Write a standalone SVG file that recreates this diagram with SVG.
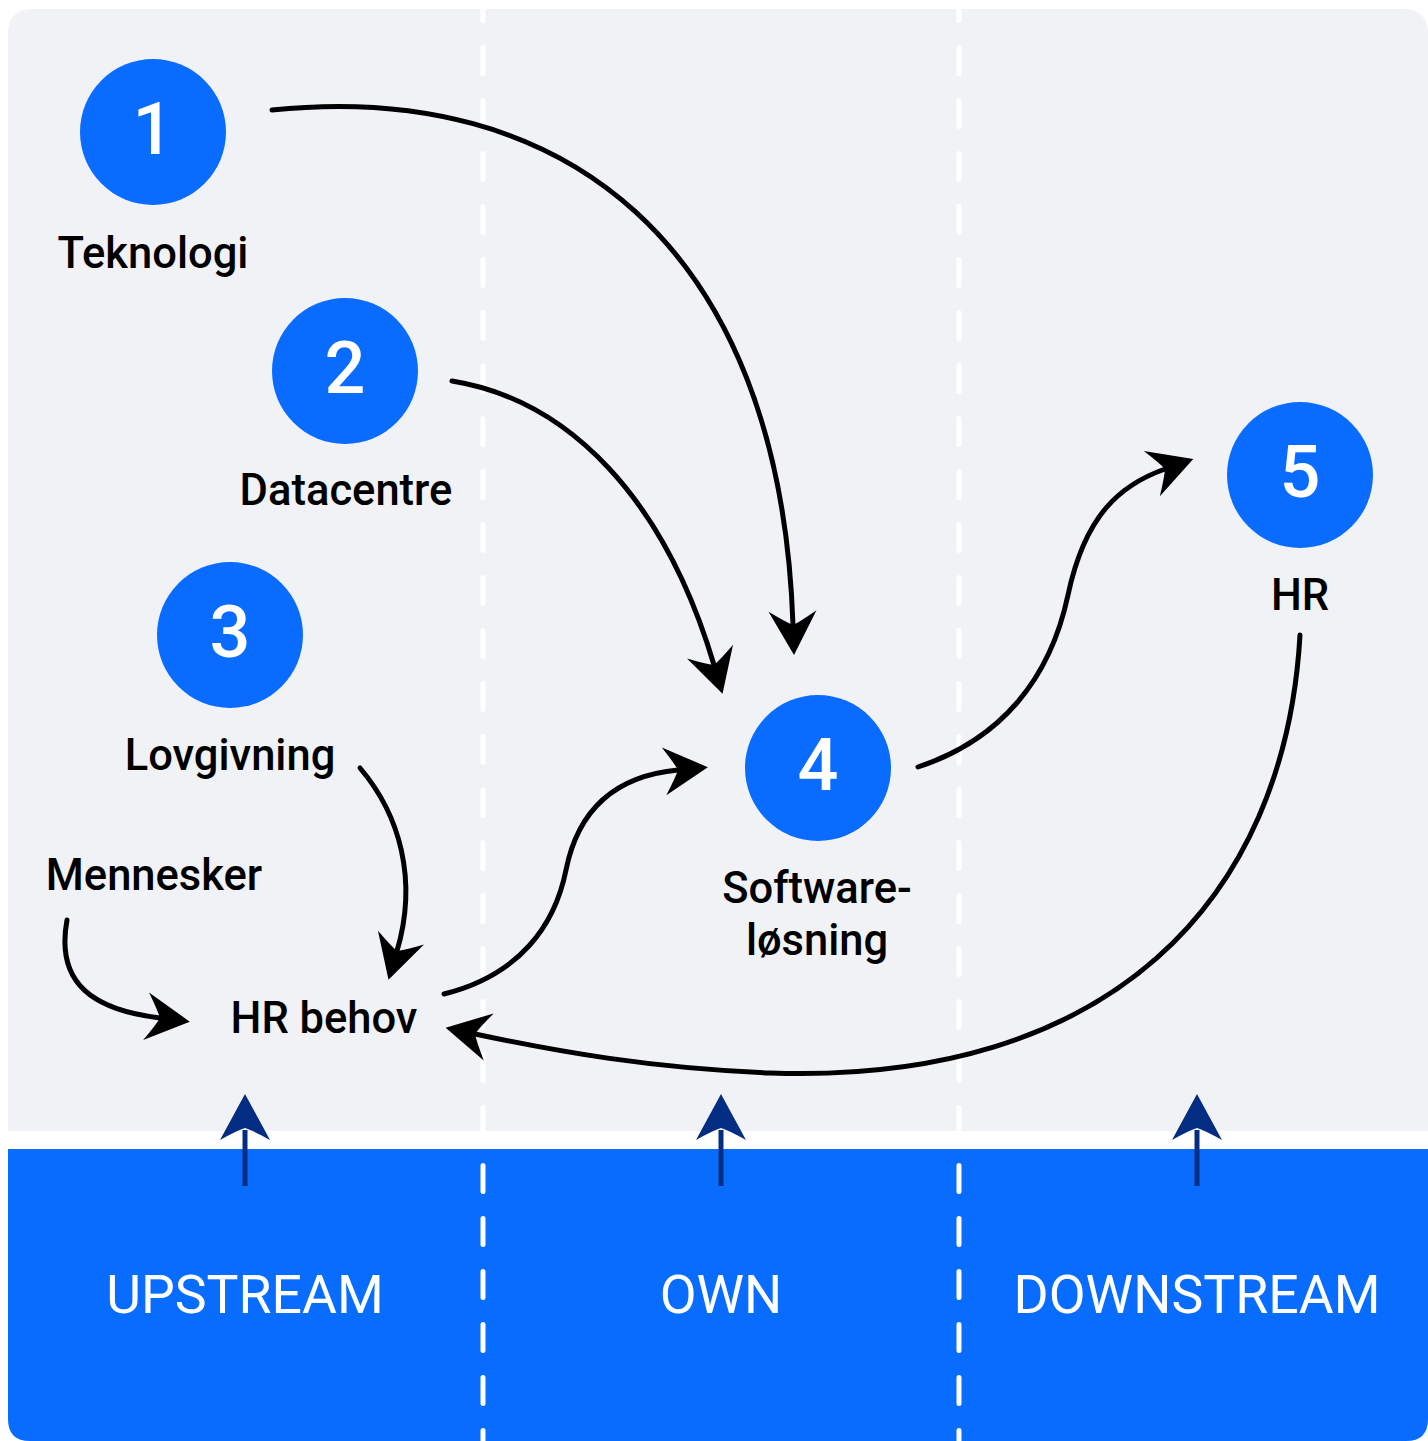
<svg xmlns="http://www.w3.org/2000/svg" width="1428" height="1441" viewBox="0 0 1428 1441">
<style>
.lbl{font-family:Roboto,'Liberation Sans',sans-serif;font-size:43.5px;font-weight:500;fill:#000;text-anchor:middle}
.num{font-family:Roboto,'Liberation Sans',sans-serif;font-size:72px;font-weight:500;fill:#fff;text-anchor:middle}
.band{font-family:Roboto,'Liberation Sans',sans-serif;font-size:53.6px;font-weight:400;fill:#fff;text-anchor:middle}
.node{fill:#0A6CFF}
.conn{fill:none;stroke:#000;stroke-width:5;stroke-linecap:round;marker-end:url(#ah)}
.dash{stroke:#fff;stroke-width:5;stroke-linecap:round;stroke-dasharray:26 27}
.up{stroke:#032D82;stroke-width:5}
.uphead{fill:#032D82}
</style>
<defs>
<marker id="ah" markerUnits="userSpaceOnUse" orient="auto" overflow="visible" markerWidth="1" markerHeight="1" refX="0" refY="0">
<path d="M30,0 L-14,-24 Q-3,-7 0,0 Q-3,7 -14,24 Z" fill="#000"/>
</marker>
</defs>
<rect width="1428" height="1441" fill="#fff"/>
<path d="M8,34 Q8,9 33,9 L1403,9 Q1428,9 1428,34 L1428,1131 L8,1131 Z" fill="#F0F2F6"/>
<path d="M8,1149 L1428,1149 L1428,1419 Q1428,1441 1406,1441 L30,1441 Q8,1441 8,1419 Z" fill="#086CFF"/>
<g id="dividers">
<line class="dash" x1="483" y1="-5.5" x2="483" y2="1131"/>
<line class="dash" x1="959" y1="-5.5" x2="959" y2="1131"/>
<line class="dash" x1="483" y1="1165.5" x2="483" y2="1441"/>
<line class="dash" x1="959" y1="1165.5" x2="959" y2="1441"/>
</g>
<g id="connectors">
<path class="conn" d="M272,110 C560,80 780,240 793,625"/>
<path class="conn" d="M452,381 C570,400 665,500 714,665"/>
<path class="conn" d="M918,767 C1000,740 1050,680 1068,595 C1085,515 1120,485 1165,469"/>
<path class="conn" d="M1300,635 C1285,900 1110,1085 770,1073 C650,1068 560,1052 475,1034"/>
<path class="conn" d="M360,768 C400,815 418,880 397,951"/>
<path class="conn" d="M67,920 C55,985 95,1010 160,1018"/>
<path class="conn" d="M444,994 C520,975 555,925 566,870 C580,800 625,775 678,770"/>
</g>
<g id="node1"><circle class="node" cx="153" cy="132" r="73"/><text class="num" x="153" y="154">1</text><text class="lbl" x="153" y="268">Teknologi</text></g>
<g id="node2"><circle class="node" cx="345" cy="371" r="73"/><text class="num" x="345" y="393">2</text><text class="lbl" x="346" y="505">Datacentre</text></g>
<g id="node3"><circle class="node" cx="230" cy="635" r="73"/><text class="num" x="230" y="657">3</text><text class="lbl" x="230" y="770">Lovgivning</text></g>
<g id="node4"><circle class="node" cx="818" cy="768" r="73"/><text class="num" x="818" y="790">4</text><text class="lbl" x="817" y="903">Software-</text><text class="lbl" x="817" y="955">løsning</text></g>
<g id="node5"><circle class="node" cx="1300" cy="475" r="73"/><text class="num" x="1300" y="497">5</text><text class="lbl" x="1300" y="610">HR</text></g>
<g id="mennesker"><text class="lbl" x="154" y="890">Mennesker</text></g>
<g id="hrbehov"><text class="lbl" x="324" y="1033">HR behov</text></g>
<g id="upstream">
<line class="up" x1="245" y1="1186" x2="245" y2="1130"/>
<path class="uphead" d="M245,1094 L270,1140 Q252,1130 245,1128 Q238,1130 220,1140 Z"/>
<text class="band" x="245" y="1313">UPSTREAM</text>
</g>
<g id="own">
<line class="up" x1="721" y1="1186" x2="721" y2="1130"/>
<path class="uphead" d="M721,1094 L746,1140 Q728,1130 721,1128 Q714,1130 696,1140 Z"/>
<text class="band" x="721" y="1313">OWN</text>
</g>
<g id="downstream">
<line class="up" x1="1197" y1="1186" x2="1197" y2="1130"/>
<path class="uphead" d="M1197,1094 L1222,1140 Q1204,1130 1197,1128 Q1190,1130 1172,1140 Z"/>
<text class="band" x="1197" y="1313">DOWNSTREAM</text>
</g>
</svg>
